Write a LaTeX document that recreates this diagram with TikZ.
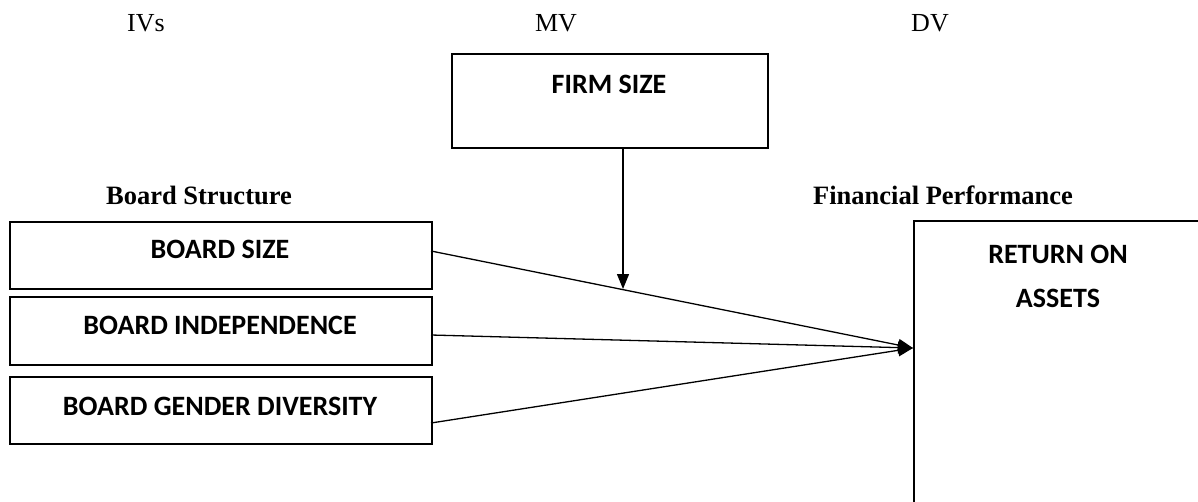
\documentclass[tikz,border=0pt]{standalone}
\usepackage{fontspec}
\setmainfont{Liberation Serif}
\newfontfamily\calib{Carlito}
\usetikzlibrary{arrows.meta,calc}
\begin{document}
\begin{tikzpicture}[x=1pt,y=-1pt,
  boxst/.style={draw=black,line width=1.5pt,rectangle,inner sep=0pt,anchor=north west},
  boxtxt/.style={font=\calib\fontsize{28}{34}\selectfont\bfseries,anchor=base,inner sep=0pt},
  head/.style={font=\fontsize{26}{30}\selectfont,anchor=base,inner sep=0pt},
  subhead/.style={font=\fontsize{26.5}{30}\selectfont\bfseries,anchor=base,inner sep=0pt},
  conn/.style={line width=1.3pt,-{Triangle[length=15pt,width=12pt]}},
  plain/.style={line width=1.3pt}]
\useasboundingbox (0,0) rectangle (1198,501);
\clip (0,0) rectangle (1198,501);
\fill[white] (0,0) rectangle (1198,501);
% headings
\node[head] (iv) at (146,31) {IVs};
\node[head] (mv) at (556,31) {MV};
\node[head] (dv) at (930,31) {DV};
\node[subhead] (bstr) at (199,204) {Board Structure};
\node[subhead] (fperf) at (943,204) {Financial Performance};
% boxes
\node[boxst,minimum width=316pt,minimum height=94pt] (fs) at (451,53) {};
\node[boxtxt] (fst) at (609,93) {FIRM SIZE};
\node[boxst,minimum width=422pt,minimum height=67pt] (bs) at (9,221) {};
\node[boxtxt] (bst) at (220,258) {BOARD SIZE};
\node[boxst,minimum width=422pt,minimum height=68pt] (bi) at (9,296) {};
\node[boxtxt] (bit) at (220,334) {BOARD INDEPENDENCE};
\node[boxst,minimum width=422pt,minimum height=67pt] (bg) at (9,376) {};
\node[boxtxt] (bgt) at (220,415) {BOARD GENDER DIVERSITY};
\node[boxst,minimum width=290pt,minimum height=320pt] (roa) at (913,220) {};
\node[boxtxt] (roat1) at (1058,263) {RETURN ON};
\node[boxtxt] (roat2) at (1058,307) {ASSETS};
% connectors
\coordinate (roaIn) at (913,348);
\coordinate (bsOut) at (431,251);
\coordinate (biOut) at (431,335);
\coordinate (bgOut) at (431,423);
\draw[conn] (bsOut) -- (roaIn);
\draw[conn] (biOut) -- (roaIn);
\draw[conn] (bgOut) -- (roaIn);
\coordinate (fsOut) at (623,147);
\coordinate (mod) at (623,289);
\draw[conn] (fsOut) -- (mod);
\end{tikzpicture}
\end{document}
